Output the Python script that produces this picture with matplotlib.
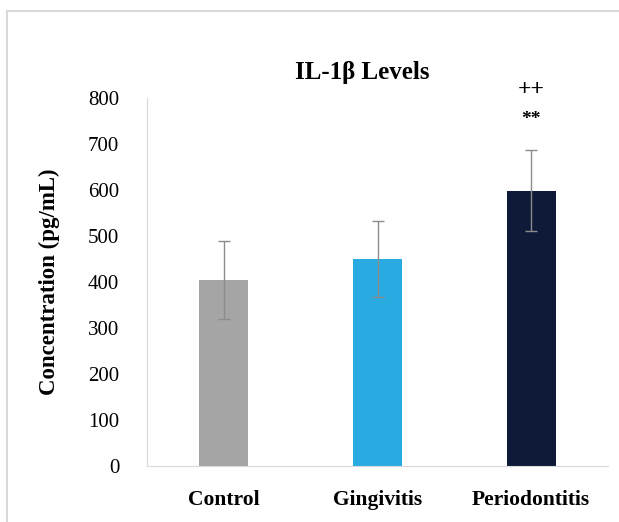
import matplotlib.pyplot as plt
import numpy as np
from matplotlib.lines import Line2D

groups = ['Control', 'Gingivitis', 'Periodontitis']
means = [404, 450, 598]
errs = [85, 83, 88]
colors = ['#a5a5a5', '#29aae1', '#0e1a38']

plt.rcParams['font.family'] = ['Liberation Serif', 'DejaVu Serif']

fig = plt.figure(figsize=(6.19, 5.22), dpi=100)
# light frame edge (top and left only visible)
fx, fy = 7/619, 1 - 11/522
fig.lines.append(Line2D([fx, 1], [fy, fy], transform=fig.transFigure, color='#d9d9d9', lw=1.5))
fig.lines.append(Line2D([fx, fx], [0, fy], transform=fig.transFigure, color='#d9d9d9', lw=1.5))

ax = fig.add_axes([147/619, 1 - 466/522, 461/619, 368/522])

x = np.arange(len(groups))
ax.bar(x, means, width=0.32, color=colors, zorder=2)
ax.errorbar(x, means, yerr=errs, fmt='none', ecolor='#8c8c8c', elinewidth=1,
            capsize=4, capthick=1, zorder=3)

ax.set_xlim(-0.5, 2.5)
ax.set_ylim(0, 800)
ax.set_yticks(range(0, 801, 100))
ax.set_xticks(x)
ax.set_xticklabels(groups, fontweight='bold', fontsize=15.5)
ax.tick_params(axis='y', length=0, pad=20, labelsize=15)
ax.tick_params(axis='x', length=0, pad=17)

for s in ['top', 'right']:
    ax.spines[s].set_visible(False)
ax.spines['left'].set_color('#d9d9d9')
ax.spines['bottom'].set_color('#d9d9d9')

ax.set_ylabel('Concentration (pg/mL)', fontweight='bold', fontsize=16.5, labelpad=20)
fig.text(362/619, 1 - 72/522, 'IL-1β Levels', fontweight='bold', fontsize=18,
         ha='center', va='center')

# significance marks above periodontitis
top = means[2] + errs[2]
ax.annotate('**', (2, top), xytext=(0, 16), textcoords='offset points',
            ha='center', va='bottom', fontweight='bold', fontsize=14)
ax.annotate('++', (2, top), xytext=(0, 36), textcoords='offset points',
            ha='center', va='bottom', fontweight='bold', fontsize=17)

fig.savefig('out.png', dpi=100)
